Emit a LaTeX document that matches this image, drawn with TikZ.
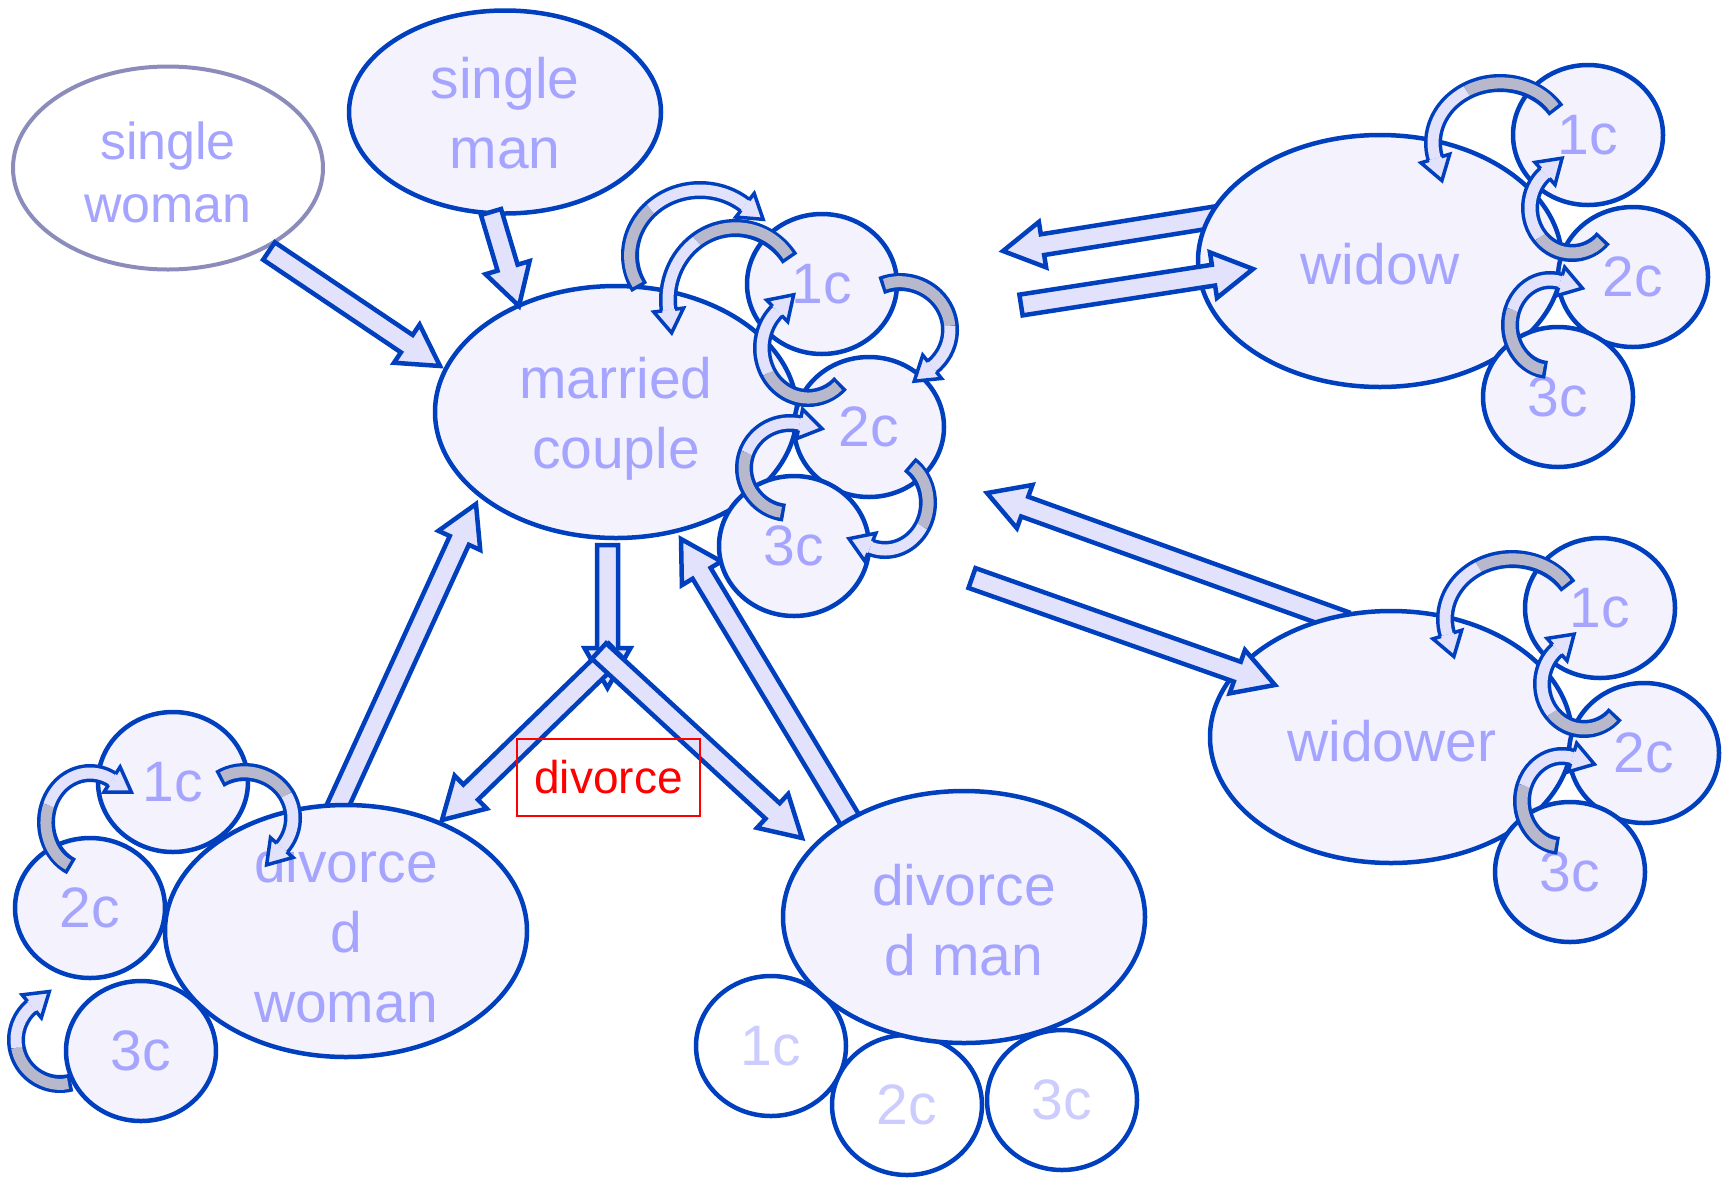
\documentclass[tikz,border=0pt]{standalone}
\usepackage{fontspec}
\setmainfont{Liberation Sans}
\usetikzlibrary{shapes.geometric}
\definecolor{bl}{RGB}{0,64,190}
\definecolor{elf}{RGB}{244,242,253}
\definecolor{txt}{RGB}{165,165,255}
\definecolor{txtl}{RGB}{204,204,255}
\definecolor{arf}{RGB}{226,226,252}
\definecolor{rgray}{RGB}{184,184,204}
\definecolor{swb}{RGB}{140,140,188}
\newcommand\bigf{\fontsize{57}{70}\selectfont}
\newcommand\midf{\fontsize{52}{63}\selectfont}
\newdimen\bdima \newdimen\bdimb \newdimen\bdimc \newdimen\bdimd
% straight block arrow between two named coordinates
\newcommand\barrow[2]{%
  \pgfextractx{\bdima}{\pgfpointanchor{#1}{center}}%
  \pgfextracty{\bdimb}{\pgfpointanchor{#1}{center}}%
  \pgfextractx{\bdimc}{\pgfpointanchor{#2}{center}}%
  \pgfextracty{\bdimd}{\pgfpointanchor{#2}{center}}%
  \pgfmathsetmacro\bax{\bdima}\pgfmathsetmacro\bay{\bdimb}%
  \pgfmathsetmacro\bdx{\bdimc-\bdima}\pgfmathsetmacro\bdy{\bdimd-\bdimb}%
  \pgfmathsetmacro\bang{atan2(\bdy,\bdx)}\pgfmathsetmacro\blen{veclen(\bdx,\bdy)}%
  \draw[barr] [shift={(\bax pt,\bay pt)}, rotate=\bang] (0,-10.5) -- (\blen-40,-10.5) -- (\blen-40,-23) -- (\blen,0) -- (\blen-40,23) -- (\blen-40,10.5) -- (0,10.5) -- cycle;%
}
% curved ribbon arrow: cx, cy, rx, ry, start angle, split angle, end angle
\newcommand\carrow[7]{%
  \pgfmathsetmacro\sg{#7>#5 ? 1 : -1}%
  \pgfmathsetmacro\ex{#1+#3*cos(#7)}%
  \pgfmathsetmacro\ey{#2+#4*sin(#7)}%
  \pgfmathsetmacro\tx{-\sg*#3*sin(#7)}%
  \pgfmathsetmacro\ty{\sg*#4*cos(#7)}%
  \pgfmathsetmacro\rang{-1*atan2(\ty,\tx)}%
  \draw[ribout] (#1,#2) ++(#5:#3 and #4) arc[start angle=#5,end angle=#7,x radius=#3,y radius=#4];
  \draw[ribgray] (#1,#2) ++(#5:#3 and #4) arc[start angle=#5,end angle=#6,x radius=#3,y radius=#4];
  \draw[riblight] (#1,#2) ++(#6:#3 and #4) arc[start angle=#6,end angle=#7,x radius=#3,y radius=#4];
  \fill[arf] [shift={(\ex,\ey)}, rotate=\rang] (0,-15) -- (23,0) -- (0,15) -- cycle;
  \draw[ribline] [shift={(\ex,\ey)}, rotate=\rang] (0,-6.5) -- (0,-15) -- (23,0) -- (0,15) -- (0,6.5);
}
\begin{document}
\begin{tikzpicture}[x=1pt,y=-1pt,
  ell/.style={ellipse, draw=bl, line width=4.5pt, fill=elf, inner sep=0pt},
  lbl/.style={text=txt, align=center, font=\bigf, inner sep=0pt},
  kid/.style={ellipse, draw=bl, line width=4.5pt, fill=elf, text=txt, minimum width=150pt, minimum height=140pt, inner sep=0pt, font=\bigf},
  kidw/.style={kid, fill=white, text=txtl},
  barr/.style={draw=bl, line width=4.5pt, fill=arf, line join=miter},
  ribout/.style={draw=bl, line width=18pt, line cap=butt},
  ribgray/.style={draw=rgray, line width=11pt, line cap=butt, shorten <=3.5pt},
  riblight/.style={draw=arf, line width=11pt, line cap=butt},
  ribline/.style={draw=bl, line width=3.5pt, line join=miter},
  divl/.style={draw=red, line width=1.5pt, text=red, minimum width=183pt, minimum height=77pt, font=\fontsize{46}{55}\selectfont}
]
\useasboundingbox (0,0) rectangle (1724,1179);

% arrow end points
\coordinate (a1s) at (269,251);   \coordinate (a1e) at (440,366);
\coordinate (a2s) at (491,212);   \coordinate (a2e) at (519,306);
\coordinate (a3s) at (607.5,545); \coordinate (a3e) at (607.5,688);
\coordinate (a4s) at (616,651);   \coordinate (a4e) at (442,820);
\coordinate (a5s) at (599,651);   \coordinate (a5e) at (802,838);
\coordinate (a6s) at (334,814);   \coordinate (a6e) at (476,504);
\coordinate (a7s) at (850,820);   \coordinate (a7e) at (681,539);
\coordinate (a8s) at (1021,305);  \coordinate (a8e) at (1253,269);
\coordinate (a9s) at (1215,217);  \coordinate (a9e) at (1003,251);
\coordinate (a10s) at (1345,622); \coordinate (a10e) at (987,493);
\coordinate (a11s) at (972,578);  \coordinate (a11e) at (1275,685);

% arrows lying under the ellipses
\barrow{a6s}{a6e}
\barrow{a7s}{a7e}
\barrow{a9s}{a9e}
\barrow{a10s}{a10e}
\barrow{a3s}{a3e}

% single people
\node[ell, draw=swb, line width=4pt, fill=white, minimum width=310pt, minimum height=203pt] (sw) at (168,168) {};
\node[lbl, font=\midf] (swt) at (168,172) {single\\woman};
\node[ell, minimum width=312pt, minimum height=203pt] (sm) at (505,112) {};
\node[lbl] (smt) at (505,113) {single\\man};

% married couple
\node[ell, minimum width=362pt, minimum height=252pt] (mc) at (616,412) {};
\node[lbl] (mct) at (616,419) {married\\couple};
\node[kid] (mc1) at (822,284) {1c};
\node[kid] (mc2) at (869,427) {2c};
\node[kid] (mc3) at (794,546) {3c};

% widow
\node[ell, minimum width=364pt, minimum height=252pt] (wo) at (1380,261) {};
\node[lbl] (wot) at (1380,264) {widow};
\node[kid] (wo1) at (1588,135) {1c};
\node[kid] (wo2) at (1633,277) {2c};
\node[kid] (wo3) at (1558,397) {3c};

% widower
\node[ell, minimum width=362pt, minimum height=252pt] (wr) at (1391,737) {};
\node[lbl] (wrt) at (1392,741) {widower};
\node[kid] (wr1) at (1600,608) {1c};
\node[kid] (wr2) at (1644,753) {2c};
\node[kid] (wr3) at (1570,872) {3c};

% divorced woman
\node[kid] (dw1) at (173,782) {1c};
\node[kid] (dw2) at (90,908) {2c};
\node[kid] (dw3) at (141,1051) {3c};
\node[ell, minimum width=362pt, minimum height=252pt] (dw) at (346,931) {};
\node[lbl] (dwt) at (346,932) {divorce\\d\\woman};

% divorced man
\node[kidw] (dm1) at (771,1046) {1c};
\node[kidw] (dm2) at (907,1105) {2c};
\node[kidw] (dm3) at (1062,1100) {3c};
\node[ell, minimum width=362pt, minimum height=252pt] (dm) at (964,917) {};
\node[lbl] (dmt) at (964,920) {divorce\\d man};

% arrows lying over the ellipses
\barrow{a1s}{a1e}
\barrow{a2s}{a2e}
\barrow{a8s}{a8e}
\barrow{a11s}{a11e}
\barrow{a4s}{a4e}
\barrow{a5s}{a5e}

\node[divl] (dv) at (608.5,777.5) {divorce};

% curved arrows: married couple
\carrow{700}{255}{70}{65}{150}{225}{310}
\carrow{735}{300}{67}{72}{325}{235}{172}
\carrow{900}{330}{50}{48}{248}{355}{410}
\carrow{808}{348}{46}{50}{45}{150}{228}
\carrow{885}{503}{43}{47}{305}{390}{470}
\carrow{790}{468}{46}{45}{97}{200}{282}

% curved arrows: widow and widower
\foreach \dy/\dx in {0/0, 476/12}{
  \begin{scope}[shift={(\dx,\dy)}]
    \carrow{1500}{143}{67}{60}{327}{240}{165}
    \carrow{1572}{208}{42}{45}{42}{140}{230}
    \carrow{1550}{325}{40}{45}{95}{200}{285}
  \end{scope}
}

% curved arrows: divorced woman
\carrow{90}{822}{44}{49}{115}{200}{300}
\carrow{245}{818}{48}{46}{238}{330}{400}
\carrow{60}{1040}{44}{44}{75}{170}{230}
\end{tikzpicture}
\end{document}
